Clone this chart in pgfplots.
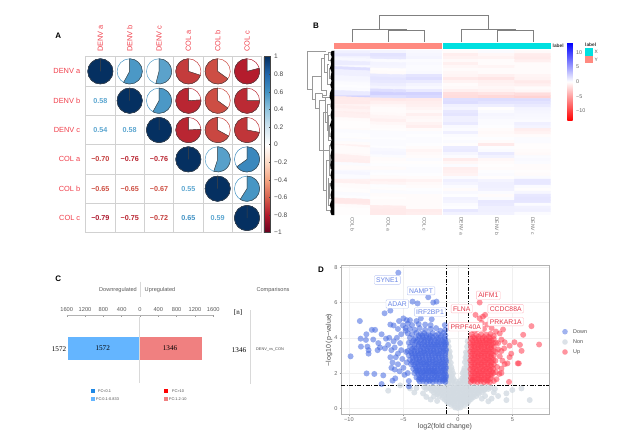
\documentclass[border=0pt]{standalone}
\usepackage{fontspec}
\setmainfont{Liberation Sans}
\newfontfamily\serifn{Liberation Serif}
\usepackage{pgfplots}
\usepackage{pgfplotstable}
\pgfplotsset{compat=1.18}
\newcommand\fs[1]{\fontsize{#1}{#1}\selectfont}
\newcommand\T[4][]{\node[inner sep=0pt,#1] at (axis cs:#2,#3) {#4};}
\definecolor{rl}{HTML}{F0404C}
\definecolor{cdark}{HTML}{444444}
\definecolor{volB}{HTML}{4468E0}
\definecolor{volR}{HTML}{FF3D50}
\definecolor{volG}{HTML}{D3DBE2}
\definecolor{nA}{RGB}{92,166,208}
\definecolor{nB}{RGB}{66,146,196}
\definecolor{nC}{RGB}{205,80,68}
\definecolor{nD}{RGB}{195,60,58}
\definecolor{nE}{RGB}{185,38,50}
\definecolor{nF}{RGB}{172,24,46}
\definecolor{sal}{RGB}{255,138,128}
\definecolor{cya}{RGB}{0,224,224}
\definecolor{bDn}{RGB}{100,181,255}
\definecolor{bUp}{RGB}{240,128,128}
\definecolor{bDk}{RGB}{30,136,229}
\pgfdeclareplotmark{cpie}{%
  \pgfmathsetmacro\aa{90-360*\vv}%
  \fill[white] (0,0) circle (12.6pt);
  \draw[mapped color,line width=.5pt] (0,0) circle (12.6pt);
  \fill[mapped color] (0,0) -- (0,12.6pt) arc[start angle=90,end angle=\aa,radius=12.6pt] -- cycle;
  \draw[cdark,line width=.45pt] (0,0) -- (0,12.6pt) arc[start angle=90,end angle=\aa,radius=12.6pt] -- cycle;
}
\pgfplotstableread{
x y v
0.5 5.5 1
1.5 5.5 0.58
2.5 5.5 0.54
3.5 5.5 -0.70
4.5 5.5 -0.65
5.5 5.5 -0.79
1.5 4.5 1
2.5 4.5 0.58
3.5 4.5 -0.76
4.5 4.5 -0.65
5.5 4.5 -0.75
2.5 3.5 1
3.5 3.5 -0.76
4.5 3.5 -0.67
5.5 3.5 -0.72
3.5 2.5 1
4.5 2.5 0.55
5.5 2.5 0.65
4.5 1.5 1
5.5 1.5 0.59
5.5 0.5 1
}\piedata
\pgfplotsset{numlab/.style={only marks,mark=none,point meta=explicit symbolic,nodes near coords,
  every node near coord/.append style={anchor=center,font=\bfseries\fs{7.2},text=#1,inner sep=0pt}}}
\pgfplotsset{vol/.style 2 args={only marks,mark=*,mark size=3pt,mark options={draw opacity=0,fill=#1,fill opacity=#2}}}
\begin{document}
\begin{tikzpicture}
\useasboundingbox (0,0) rectangle (634pt,436pt);
% ---------- A
\begin{axis}[at={(85.7pt,203.3pt)},anchor=south west,scale only axis,width=176pt,height=176pt,
 xmin=0,xmax=6,ymin=0,ymax=6,
 xtick={0.5,1.5,2.5,3.5,4.5,5.5},ytick={0.5,1.5,2.5,3.5,4.5,5.5},
 xticklabels={DENV a,DENV b,DENV c,COL a,COL b,COL c},
 yticklabels={COL c,COL b,COL a,DENV c,DENV b,DENV a},
 minor xtick={1,2,3,4,5},minor ytick={1,2,3,4,5},
 grid=minor,minor grid style={draw=black!18,line width=.8pt},
 axis line style={draw=black!18,line width=.8pt},
 major tick length=0pt,minor tick length=0pt,
 xticklabel pos=top,
 x tick label style={rotate=90,anchor=west,font=\fs{7.4},text=rl},
 y tick label style={font=\fs{7.4},text=rl,anchor=east},
 xticklabel shift=1.5pt,yticklabel shift=2pt,
 point meta min=-1,point meta max=1,
 colormap={rdbu}{rgb255=(103,0,31);rgb255=(178,24,43);rgb255=(214,96,77);rgb255=(244,165,130);rgb255=(253,219,199);rgb255=(255,255,255);rgb255=(209,229,240);rgb255=(146,197,222);rgb255=(67,147,195);rgb255=(33,102,172);rgb255=(5,48,97)},
 colorbar,
 colorbar style={at={(1.013,0)},anchor=south west,width=6.7pt,height=176pt,
   ytick={-1,-0.8,-0.6,-0.4,-0.2,0,0.2,0.4,0.6,0.8,1},
   yticklabels={−1,−0.8,−0.6,−0.4,−0.2,0,0.2,0.4,0.6,0.8,1},
   y tick label style={font=\fs{6.6},text=cdark},
   major tick length=1.5pt,
   axis line style={draw=cdark,line width=.5pt},
   tick style={draw=cdark,line width=.4pt},
   yticklabel pos=right,ytick pos=right,yticklabel shift=0pt},
 clip=false,
]
\addplot[scatter,only marks,mark=cpie,point meta=\thisrow{v},
  visualization depends on={\thisrow{v}\as\vv}] table[x=x,y=y] {\piedata};
\addplot[numlab=nA] coordinates {(0.5,4.5)[0.58](0.5,3.5)[0.54](3.5,1.5)[0.55]};
\addplot[numlab=nA] coordinates {(1.5,3.5)[0.58]};
\addplot[numlab=nA] coordinates {(4.5,0.5)[0.59]};
\addplot[numlab=nB] coordinates {(3.5,0.5)[0.65]};
\addplot[numlab=nC] coordinates {(0.5,1.5)[−0.65](1.5,1.5)[−0.65](2.5,1.5)[−0.67]};
\addplot[numlab=nD] coordinates {(0.5,2.5)[−0.70](2.5,0.5)[−0.72]};
\addplot[numlab=nE] coordinates {(1.5,2.5)[−0.76](2.5,2.5)[−0.76](1.5,0.5)[−0.75]};
\addplot[numlab=nF] coordinates {(0.5,0.5)[−0.79]};
\end{axis}
% ---------- B heatmap
\begin{axis}[at={(334.3pt,221pt)},anchor=south west,scale only axis,width=216.4pt,height=164.3pt,
 xmin=-0.5,xmax=5.5,ymin=-54.5,ymax=0.5,
 axis line style={draw=none},ticks=none,
 point meta min=-13.4,point meta max=13.4,
 colormap={bwr}{rgb255=(255,0,0);rgb255=(255,255,255);rgb255=(0,0,255)},
 colorbar,
 colorbar style={at={(1.0767,1.0487)},anchor=north west,width=5.4pt,height=78pt,
   ytick={-10,-5,0,5,10},yticklabels={−10,−5,0,5,10},
   y tick label style={font=\fs{5.4},text=black!60},
   major tick length=0pt,axis line style={draw=none},yticklabel shift=0pt},
]
\addplot[matrix plot*,mesh/cols=6,point meta=explicit]
 table[row sep=\\,header=false,x expr={mod(\coordindex,6)},y expr={-floor(\coordindex/6)},meta index=0] {
.8\\.6\\.4\\-.2\\.2\\-.3\\
1.2\\1.5\\.5\\-.9\\-.4\\-1.0\\
.6\\1.2\\.6\\-.7\\-.6\\-1.1\\
.4\\.2\\.2\\-.3\\-.2\\-.8\\
1.0\\.6\\.3\\-.8\\-.2\\-.2\\
.3\\.5\\.2\\-.4\\-.5\\-.2\\
1.7\\-.1\\.2\\-.2\\-.2\\-.2\\
.8\\-.2\\.3\\-.4\\-.2\\-.2\\
.8\\1.1\\1.4\\-.5\\-.8\\-.5\\
.5\\1.4\\1.7\\-1.1\\-1.3\\-.6\\
.4\\1.2\\1.1\\-.6\\-.8\\-1.1\\
.2\\.9\\.6\\-.2\\-.6\\-.8\\
.1\\.6\\.4\\-.3\\-.4\\-.2\\
.2\\1.7\\1.1\\-.8\\-.6\\-.4\\
1.1\\2.4\\2.3\\-1.7\\-1.4\\-1.8\\
2.3\\1.7\\2.0\\-1.8\\-2.0\\-2.3\\
-1.1\\-1.2\\-1.1\\1.7\\1.8\\1.8\\
-1.1\\-.8\\-.9\\1.8\\1.5\\1.5\\
-.6\\-.4\\-.8\\.8\\.9\\1.1\\
-.9\\-.2\\-.5\\.6\\-.1\\.6\\
-.6\\-.2\\-.3\\1.2\\.2\\.5\\
-.9\\-.3\\-.8\\1.4\\.5\\.4\\
-.8\\-.5\\-.4\\.8\\.4\\.3\\
-.2\\-.8\\-.3\\.8\\.2\\.2\\
-.1\\-.4\\-.6\\1.1\\.2\\.8\\
-.1\\-.2\\-.9\\.3\\.1\\.6\\
-.2\\-.1\\-.2\\.2\\-.2\\-.9\\
.2\\.2\\.2\\.8\\-.3\\-.6\\
.1\\.2\\.1\\.2\\-.2\\-.2\\
-.1\\.1\\.2\\.1\\.1\\.2\\
.2\\.2\\.2\\.2\\-.2\\.2\\
-.2\\.2\\.1\\-.1\\-1.1\\-.1\\
-.7\\.1\\-.2\\1.0\\.1\\-.1\\
-.2\\.4\\-.5\\1.1\\.2\\-.2\\
-.2\\.5\\-.3\\.5\\1.1\\-.3\\
-.3\\.2\\-.2\\.2\\.7\\.2\\
-.8\\-.2\\.2\\-1.0\\-.4\\.3\\
-.9\\-.1\\-.1\\-.4\\-.2\\.2\\
.2\\.1\\.1\\.2\\-.1\\-.2\\
-.2\\-.2\\.2\\-.9\\-.2\\-.2\\
.3\\.2\\.2\\-.8\\.1\\-.1\\
.5\\.1\\.1\\-.6\\.2\\-.2\\
.2\\-.2\\-.2\\.2\\-.1\\.2\\
-.7\\-.8\\-.6\\.8\\.6\\1.2\\
-.8\\-.5\\-.3\\.6\\.8\\1.2\\
-.2\\.1\\-.2\\.2\\.8\\.2\\
-.2\\-.1\\.1\\-.2\\.7\\-.1\\
-.1\\.2\\.2\\.3\\.2\\.5\\
.2\\-.2\\-.2\\.1\\-.2\\1.2\\
.1\\-.1\\-.2\\.7\\.2\\1.4\\
-1.2\\-.2\\-.2\\.6\\1.2\\1.3\\
-1.1\\-.2\\-.2\\.2\\1.1\\.2\\
-.2\\-1.0\\-.2\\.1\\.8\\.7\\
-.1\\-1.1\\-1.0\\1.2\\.8\\.8\\
-.1\\-1.1\\-.9\\.7\\.7\\.2\\
};
\end{axis}
% ---------- C
\begin{axis}[at={(66.7pt,53pt)},anchor=south west,scale only axis,width=146.6pt,height=68pt,
 xmin=-1600,xmax=1600,ymin=0,ymax=1,
 axis x line*=top,axis y line=none,
 xtick={-1600,-1200,-800,-400,0,400,800,1200,1600},
 xticklabels={1600,1200,800,400,0,400,800,1200,1600},
 x tick label style={font=\fs{5.7},text=black!65},
 x axis line style={draw=black!30,line width=.8pt,-},
 tick style={draw=black!40,line width=.4pt},
 major tick length=2pt,xticklabel shift=0pt,
 clip=false,
]
\addplot[xbar,bar width=22.7pt,fill=bDn,draw=none] coordinates {(-1572,0.506)};
\addplot[xbar,bar width=22.7pt,fill=bUp,draw=none] coordinates {(1346,0.506)};
\end{axis}
% ---------- D
\begin{axis}[at={(341pt,22pt)},anchor=south west,scale only axis,width=208pt,height=148.7pt,
 xmin=-10.73,xmax=8.37,ymin=-0.32,ymax=8.11,
 xtick={-10,-5,0,5},xticklabels={−10,−5,0,5},ytick={0,2,4,6,8},
 grid=major,grid style={draw=black!6,line width=.4pt},
 axis line style={draw=black!30,line width=.9pt},
 tick style={draw=black!40,line width=.4pt},major tick length=1.5pt,
 tick align=outside,xtick pos=bottom,ytick pos=left,
 tick label style={font=\fs{5.6},text=black!60},
 xticklabel shift=-1pt,yticklabel shift=-1.5pt,
 /pgf/number format/assume math mode=true,
]
\addplot[vol={volG}{.8}] coordinates {
(-.25,.05)(0,.02)(.25,.06)(-.6,.2)(-.3,.18)(0,.22)(.3,.2)(.6,.18)
(-1,.38)(-.7,.42)(-.35,.4)(0,.36)(.35,.43)(.7,.39)(1,.41)
(-1.4,.6)(-1.05,.58)(-.7,.62)(-.35,.6)(0,.57)(.35,.63)(.7,.6)(1.05,.58)(1.4,.62)
(-1.9,.8)(-1.5,.82)(-1.1,.78)(-.75,.8)(-.4,.83)(0,.78)(.4,.81)(.75,.79)(1.1,.83)(1.5,.78)(1.9,.82)
(-2.4,1)(-2,.98)(-1.6,1.03)(-1.2,.98)(-.8,1.02)(-.4,1)(0,.98)(.4,1.03)(.8,.98)(1.2,1.02)(1.6,1)(2,.98)(2.4,1.02)
(-3.1,1.2)(-2.7,1.18)(-2.3,1.22)(-1.9,1.2)(-1.5,1.18)(-1.1,1.22)(-.7,1.2)(-.35,1.18)(0,1.22)(.35,1.2)(.7,1.18)(1.1,1.22)(1.5,1.2)(1.9,1.18)(2.3,1.22)(2.7,1.2)(3,1.18)
(-.9,1.4)(-.6,1.42)(-.3,1.38)(.05,1.4)(.3,1.42)(.6,1.38)(.9,1.4)
(-.9,1.7)(-.65,1.72)(-.4,1.68)(.4,1.7)(.65,1.72)(.9,1.68)
(-.95,2)(-.7,2.02)(-.45,1.98)(.45,2)(.7,1.98)(.95,2.02)
(-.9,2.3)(-.6,2.32)(.6,2.28)(.9,2.3)(-.9,2.6)(-.65,2.58)(.65,2.62)(.9,2.6)
(-.9,2.9)(-.7,2.92)(.7,2.88)(.9,2.9)(-.9,3.2)(-.75,3.22)(.75,3.18)(.92,3.2)
(-.85,3.5)(.85,3.5)(-.9,3.8)(.9,3.8)
(-3.8,1.15)(-4.4,1.13)(-6.4,1)(-5.3,1.3)(-4,.9)(-2.9,.65)(-3.2,.85)(-2.5,.5)(-1.9,.42)(-2.2,.68)
(3.3,.9)(3.7,.7)(4.46,.85)(5,1.04)(4.46,.47)(5.84,1.13)(6.6,.47)(3.1,.55)(2.8,.4)(2.2,.55)(3.4,1.1)(2.5,.7)
(-.85,.3)(-.45,.28)(.45,.3)(.85,.28)(-1.2,.5)(-.85,.52)(-.5,.48)(-.15,.5)(.15,.52)(.5,.48)(.85,.5)(1.2,.52)
(-1.7,.7)(-1.3,.72)(-.9,.68)(-.55,.7)(-.2,.72)(.2,.68)(.55,.7)(.9,.72)(1.3,.68)(1.7,.7)
(-2.2,.9)(-1.8,.88)(-1.4,.92)(-1,.9)(-.6,.88)(-.2,.92)(.2,.9)(.6,.88)(1,.92)(1.4,.9)(1.8,.88)(2.2,.92)
(-2.9,1.1)(-2.5,1.12)(-2.1,1.08)(-1.7,1.1)(-1.3,1.12)(-.9,1.08)(-.5,1.1)(-.15,1.12)(.15,1.08)(.5,1.1)(.9,1.12)(1.3,1.08)(1.7,1.1)(2.1,1.12)(2.5,1.08)(2.8,1.1)
(-.8,1.55)(-.5,1.57)(-.2,1.53)(.2,1.55)(.5,1.57)(.8,1.53)(-.8,1.85)(-.55,1.87)(.55,1.83)(.8,1.85)
(-.8,2.15)(-.55,2.17)(.55,2.13)(.8,2.15)(-.8,2.45)(.8,2.45)(-.8,2.75)(.8,2.75)(-.8,3.05)(.8,3.05)
};
\addplot[vol={volB}{.55}] coordinates {
(-5.47,7.69)(-6.2,5.54)(-6.73,5.39)(-9,4.95)(-4.16,6.05)(-3.7,5.95)(-2.72,6.3)(-2.26,6)(-1.96,6.05)(-2.4,5.05)
(-9.85,2.95)(-8.93,3.95)(-8.9,3.5)(-8.4,4.2)(-8.44,3.88)(-8.3,3.5)(-8.2,3.3)(-8.2,3.1)(-7.9,4.45)(-7.6,4.45)(-7,4.2)
(-7.77,3.9)(-7.3,3.7)(-7.15,3.45)(-7.37,3.3)(-8.38,1.98)(-7.67,1.95)(-6.85,1.87)(-7,1.38)(-6,1.57)(-5.75,1.7)
(-6.6,3.95)(-6.4,3.6)(-6.7,3.4)(-6.1,3.3)(-6.3,4)(-5.9,3.8)(-5.8,3.45)(-5.6,4)(-5.5,3.1)(-6.0,2.6)(-6.2,2.9)(-5.7,2.9)(-6.1,2.3)(-5.8,2.2)(-5.5,2.5)
(-5.3,3.7)(-5.2,4.2)(-5.5,4.5)(-5.9,4.7)(-6.2,4.75)(-5.4,4.95)(-5.0,5.1)(-4.7,5)(-5.05,4.7)(-4.8,4.4)(-5.2,3.3)(-5.1,2.8)(-5.35,2.1)(-5,2.3)(-4.9,1.9)(-4.5,1.55)(-4.6,2.0)(-4.7,2.6)(-4.75,3.2)(-4.5,1.25)
(-4.8,4.55)(-4.4,4.5)(-3.95,4.45)(-3.5,4.55)(-3,4.45)(-2.5,4.5)(-2,4.55)(-1.15,4.45)(-1.6,4.4)(-3,4.75)(-3.6,4.78)(-4.2,4.72)(-4.6,4.8)(-2.5,4.72)(-1.2,4.72)(-4.4,5)(-3.8,4.95)(-3.4,5.1)
(-4.6,4.25)(-4.2,4.2)(-3.8,4.28)(-3.4,4.22)(-3.1,4.27)(-2.7,4.2)(-2.3,4.26)(-1.8,4.22)(-1.3,4.28)
(-4.4,4)(-3.9,3.97)(-3.5,4.03)(-3.2,3.98)(-2.9,4.02)(-2.6,3.97)(-2.3,4.03)(-1.95,3.98)(-1.6,4.02)(-1.2,3.97)
(-4.5,3.72)(-4.2,3.75)(-3.8,3.78)(-3.5,3.72)(-3.1,3.77)(-2.8,3.73)(-2.5,3.78)(-2.2,3.72)(-1.9,3.76)(-1.6,3.74)(-1.3,3.77)(-1.1,3.72)
(-4.4,3.5)(-4,3.47)(-3.6,3.52)(-3.3,3.48)(-3,3.53)(-2.7,3.47)(-2.4,3.52)(-2.1,3.48)(-1.8,3.53)(-1.5,3.47)(-1.2,3.52)
(-4.6,3.25)(-4.3,3.22)(-4,3.28)(-3.7,3.23)(-3.4,3.27)(-3.1,3.22)(-2.8,3.28)(-2.5,3.23)(-2.2,3.27)(-1.9,3.22)(-1.6,3.28)(-1.35,3.23)(-1.1,3.27)
(-4.5,3)(-4.2,3.03)(-3.9,2.98)(-3.6,3.02)(-3.3,2.97)(-3,3.03)(-2.7,2.98)(-2.4,3.02)(-2.1,2.97)(-1.8,3.03)(-1.5,2.98)(-1.15,3.02)
(-4.4,2.75)(-4.1,2.72)(-3.8,2.78)(-3.5,2.73)(-3.2,2.77)(-2.9,2.72)(-2.6,2.78)(-2.3,2.73)(-2,2.77)(-1.7,2.72)(-1.4,2.78)(-1.1,2.73)
(-4.3,2.5)(-4,2.47)(-3.7,2.53)(-3.4,2.48)(-3.15,2.52)(-2.85,2.47)(-2.6,2.53)(-2.3,2.48)(-2.05,2.52)(-1.75,2.47)(-1.5,2.53)(-1.2,2.48)
(-4.1,2.25)(-3.8,2.28)(-3.55,2.22)(-3.25,2.27)(-2.95,2.23)(-2.7,2.28)(-2.4,2.22)(-2.15,2.27)(-1.85,2.23)(-1.6,2.28)(-1.3,2.22)(-1.1,2.27)
(-4,2)(-3.7,2.03)(-3.4,1.98)(-3.15,2.02)(-2.85,1.97)(-2.55,2.03)(-2.3,1.98)(-2,2.02)(-1.75,1.97)(-1.45,2.03)(-1.2,1.98)
(-3.8,1.75)(-3.5,1.72)(-3.25,1.78)(-2.95,1.73)(-2.7,1.77)(-2.4,1.72)(-2.1,1.78)(-1.85,1.73)(-1.55,1.77)(-1.3,1.72)(-1.1,1.77)
(-3.5,1.52)(-3.2,1.55)(-2.9,1.5)(-2.6,1.54)(-2.3,1.5)(-2,1.55)(-1.7,1.5)(-1.4,1.54)(-1.15,1.5)
(-3.95,3.1)(-3.45,3.12)(-2.95,3.15)(-2.45,3.14)(-1.95,3.12)(-1.45,3.13)(-3.85,2.6)(-3.35,2.62)(-2.85,2.6)(-2.35,2.63)(-1.85,2.6)(-1.35,2.62)
(-3.65,2.15)(-3.05,2.12)(-2.55,2.14)(-2.05,2.12)(-1.55,2.14)(-3.35,1.65)(-2.75,1.62)(-2.25,1.65)(-1.65,1.63)(-1.25,1.6)
(-3.3,3.65)(-2.75,3.62)(-2.25,3.62)(-1.75,3.64)(-1.25,3.64)
(-3.6,1.63)(-3.05,1.64)(-2.5,1.62)(-1.95,1.65)(-1.4,1.63)(-1.15,1.65)
(-3.6,1.9)(-3.3,1.88)(-3,1.9)(-2.7,1.87)(-2.4,1.9)(-2.15,1.88)(-1.9,1.9)(-1.6,1.87)(-1.3,1.9)(-1.1,1.88)
(-3.85,2.12)(-3.5,2.1)(-3.2,2.13)(-2.9,2.1)(-2.7,2.13)(-2.35,2.11)(-2.2,2.13)(-1.85,2.1)(-1.4,2.13)(-1.15,2.11)
(-3.9,2.37)(-3.6,2.38)(-3.3,2.36)(-3,2.39)(-2.7,2.37)(-2.45,2.38)(-2.15,2.36)(-1.9,2.38)(-1.6,2.37)(-1.35,2.39)(-1.12,2.37)
(-4.2,2.62)(-3.6,2.64)(-3.1,2.61)(-2.65,2.64)(-2.1,2.62)(-1.6,2.64)(-1.1,2.61)
(-4.15,2.87)(-3.85,2.88)(-3.55,2.86)(-3.25,2.89)(-2.95,2.87)(-2.65,2.88)(-2.35,2.86)(-2.05,2.89)(-1.75,2.87)(-1.45,2.88)(-1.15,2.86)
(-4.25,3.13)(-3.7,3.11)(-3.2,3.14)(-2.7,3.12)(-2.2,3.14)(-1.7,3.11)(-1.15,3.13)
(-4.2,3.37)(-3.85,3.38)(-3.45,3.36)(-3.15,3.39)(-2.85,3.37)(-2.55,3.38)(-2.25,3.36)(-1.95,3.39)(-1.65,3.37)(-1.35,3.38)(-1.1,3.36)
(-4,3.62)(-3.6,3.63)(-3.05,3.61)(-2.5,3.63)(-2,3.61)(-1.5,3.63)(-1.1,3.61)
(-4.05,3.87)(-3.7,3.88)(-3.35,3.86)(-3.05,3.89)(-2.75,3.87)(-2.45,3.88)(-2.1,3.86)(-1.8,3.89)(-1.45,3.87)(-1.15,3.88)
(-3.6,4.13)(-3.25,4.12)(-2.9,4.14)(-2.5,4.11)(-2.05,4.13)(-1.55,4.12)(-1.15,4.14)
};
\addplot[vol={volR}{.55}] coordinates {
(2,6)(1.62,5.3)(2,5.1)(2.3,5.2)(2.5,5.3)(2.2,4.85)(6.76,4.66)(6,4.17)(7.46,3.62)(5.2,3.75)(5.7,3.6)(5.85,3.26)(4.75,3.55)(4.15,4.47)(4,3.9)(4,3.25)(4.75,2.9)(4.9,3.1)(5.6,2.55)(5.5,2.55)(4.7,1.5)(4.1,2.7)(4.3,2.5)(2.7,4.75)(3.1,4.55)(3.5,4.35)(3.85,4.25)(1.5,4.4)(1.8,4.5)(2.4,4.5)
(4.3,3.75)(3.7,3.7)(4.25,3.4)(3.85,2.95)(3.6,2.35)(4,2.25)(3.8,1.95)(3.5,2.05)(3.45,2.7)(3.7,3.35)(4.55,2.55)(4.0,2.0)(3.55,1.65)(3.3,1.55)
(1.25,4.2)(1.7,4.15)(2.15,4.2)(2.6,4.18)(3,4.22)(3.3,4.1)(1.2,3.95)(1.55,3.98)(1.9,3.93)(2.25,3.97)(2.6,3.92)(2.95,3.98)(3.3,3.93)
(1.15,3.72)(1.45,3.7)(1.75,3.74)(2.05,3.7)(2.35,3.74)(2.65,3.7)(2.95,3.74)(3.25,3.7)(3.5,3.72)
(1.2,3.47)(1.5,3.5)(1.8,3.45)(2.1,3.5)(2.4,3.46)(2.7,3.5)(3,3.45)(3.3,3.5)
(1.15,3.22)(1.45,3.25)(1.75,3.2)(2.05,3.24)(2.35,3.2)(2.65,3.25)(2.95,3.2)(3.25,3.24)(3.5,3.2)
(1.2,2.97)(1.5,3)(1.8,2.95)(2.1,3)(2.4,2.96)(2.7,3)(3,2.95)(3.3,3)
(1.15,2.72)(1.45,2.75)(1.75,2.7)(2.05,2.74)(2.35,2.7)(2.65,2.75)(2.95,2.7)(3.25,2.74)
(1.2,2.47)(1.5,2.5)(1.8,2.45)(2.1,2.5)(2.4,2.46)(2.7,2.5)(3,2.45)(3.3,2.5)
(1.15,2.22)(1.45,2.25)(1.75,2.2)(2.05,2.24)(2.35,2.2)(2.65,2.25)(2.95,2.2)(3.25,2.24)
(1.2,1.97)(1.5,2)(1.8,1.95)(2.1,2)(2.4,1.96)(2.7,2)(3,1.95)(3.25,2)
(1.2,1.72)(1.5,1.75)(1.8,1.7)(2.1,1.74)(2.4,1.7)(2.7,1.75)(3,1.7)
(1.2,1.5)(1.5,1.52)(1.8,1.48)(2.1,1.52)(2.4,1.48)(2.7,1.52)(2.95,1.48)
(1.35,3.85)(1.95,3.82)(2.55,3.85)(3.1,3.84)(1.3,3.35)(1.9,3.37)(2.5,3.35)(3.1,3.37)(1.3,2.85)(1.9,2.87)(2.5,2.85)(3.1,2.87)
(1.3,2.35)(1.9,2.37)(2.5,2.35)(3.1,2.37)(1.3,1.85)(1.9,1.87)(2.5,1.85)(1.35,1.6)(1.95,1.62)(2.55,1.6)
(1.6,1.62)(2.2,1.63)(2.8,1.61)(1.3,1.62)(1.65,1.85)(2.2,1.86)(2.8,1.84)(3.1,1.85)
(1.35,2.1)(1.65,2.11)(1.95,2.09)(2.25,2.12)(2.55,2.1)(2.85,2.11)(3.15,2.09)
(1.6,2.35)(2.2,2.36)(2.8,2.34)(1.6,2.6)(1.3,2.6)(1.9,2.61)(2.2,2.59)(2.5,2.62)(2.8,2.6)(3.1,2.61)
(1.6,2.85)(2.2,2.86)(2.8,2.84)(1.3,3.1)(1.6,3.11)(1.9,3.09)(2.2,3.12)(2.5,3.1)(2.8,3.11)(3.1,3.09)
(1.6,3.35)(2.2,3.36)(2.8,3.34)(1.3,3.6)(1.6,3.61)(1.9,3.59)(2.2,3.62)(2.5,3.6)(2.8,3.61)(3.1,3.59)
(1.65,3.85)(2.25,3.86)(2.85,3.84)(1.4,4.05)(1.9,4.06)(2.4,4.04)(2.85,4.06)
};
\addplot[black,line width=1pt,dash pattern=on 4pt off 1.5pt on 1.2pt off 1.5pt] coordinates {(-1,-0.32)(-1,8.11)};
\addplot[black,line width=1pt,dash pattern=on 4pt off 1.5pt on 1.2pt off 1.5pt] coordinates {(1,-0.32)(1,8.11)};
\addplot[black,line width=1pt,dash pattern=on 4pt off 1.5pt on 1.2pt off 1.5pt] coordinates {(-10.73,1.32)(8.37,1.32)};
\end{axis}
% ---------- overlay
\begin{axis}[at={(0pt,0pt)},anchor=south west,scale only axis,width=634pt,height=436pt,
 xmin=0,xmax=634,ymin=0,ymax=436,y dir=reverse,hide axis,clip=false]
\addplot[white,line width=1.4pt] coordinates {(442.6,50.7)(442.6,215)};
\addplot[draw=none,fill=sal] coordinates {(334.3,42.7)(442,42.7)(442,48.7)(334.3,48.7)} --cycle;
\addplot[draw=none,fill=cya] coordinates {(443.3,42.7)(550.7,42.7)(550.7,48.7)(443.3,48.7)} --cycle;
\addplot[draw=none,fill=cya] coordinates {(585.3,48)(592.7,48)(592.7,55.7)(585.3,55.7)} --cycle;
\addplot[draw=none,fill=sal] coordinates {(585.3,55.7)(592.7,55.7)(592.7,63)(585.3,63)} --cycle;
\addplot[black!50,line width=.55pt] coordinates {(352.3,42.3)(352.3,29)(406,29)(406,30.7)(388.3,30.7)(388.3,42.3)};
\addplot[black!50,line width=.55pt] coordinates {(406,30.7)(424.3,30.7)(424.3,42.3)};
\addplot[black!50,line width=.55pt] coordinates {(379,29)(379,15.3)(488.3,15.3)(488.3,29)};
\addplot[black!50,line width=.55pt] coordinates {(461.4,42.3)(461.4,29)(515,29)(515,29.8)(497,29.8)(497,42.3)};
\addplot[black!50,line width=.55pt] coordinates {(515,29.8)(532.8,29.8)(532.8,42.3)};
\addplot[black!40,line width=.35pt,unbounded coords=jump] coordinates {
(326,50.7)(307.3,50.7)(307.3,89)(311.7,89) (nan,nan)
(320.7,75.7)(311.7,75.7)(311.7,99)(315,99) (nan,nan)
(324,58)(320.7,58)(320.7,90)(326,90) (nan,nan)
(328,54)(324,54)(324,72)(327,72) (nan,nan)
(331,52)(328,52)(328,60)(331,60) (nan,nan)
(329,64)(327,64)(327,84)(331,84) (nan,nan)
(331,68)(329,68)(329,78)(331,78) (nan,nan)
(322,93)(315,93)(315,108)(319,108) (nan,nan)
(326,90)(326,95)(322,95)(322,93)(322,97)(331,97) (nan,nan)
(325,100)(319,100)(319,150)(323,150) (nan,nan)
(328,97)(325,97)(325,122)(329,122) (nan,nan)
(327,112)(323,112)(323,190)(326,190) (nan,nan)
(330,104)(327,104)(327,130)(330,130) (nan,nan)
(330,115)(328,115)(328,140)(331,140) (nan,nan)
(329,145)(329,175)(331,175) (nan,nan)
(323,150)(329,150) (nan,nan)
(329,160)(326,160)(326,210)(331,210) (nan,nan)
(328,178)(328,205)(331,205) (nan,nan)
(331,125)(329.5,125)(329.5,136)(331,136) (nan,nan)
(331,155)(330,155)(330,168)(331,168) (nan,nan)
(331,183)(329.5,183)(329.5,198)(331,198) (nan,nan)
};
\addplot[draw=none,fill=black] coordinates {
(334.3,50.7)(331.5,51)(330.5,54)(331.8,57)(330.5,60)(331.2,64)(330,68)(331.5,72)(330.5,77)(331.5,81)(330.3,85)(331.5,89)(330,93)(329.5,97)(331,101)(330.5,106)(331.5,110)(330.5,115)(331.5,120)(330,125)(331.3,130)(330.5,135)(331.5,140)(330.3,145)(331.5,150)(330.5,155)(331.5,160)(330.3,165)(331.5,170)(330.5,175)(331.5,180)(330.3,185)(331.5,190)(330.5,195)(331.5,200)(329.8,205)(331,209)(330.3,212)(331.5,215)(334.3,215)} --cycle;
\T[rotate=-90,anchor=west,font=\fs{5},text=black!55]{352.3}{217}{COL b}
\T[rotate=-90,anchor=west,font=\fs{5},text=black!55]{388.3}{217}{COL a}
\T[rotate=-90,anchor=west,font=\fs{5},text=black!55]{424.3}{217}{COL c}
\T[rotate=-90,anchor=west,font=\fs{5},text=black!55]{461.4}{217}{DENV a}
\T[rotate=-90,anchor=west,font=\fs{5},text=black!55]{497}{217}{DENV b}
\T[rotate=-90,anchor=west,font=\fs{5},text=black!55]{532.8}{217}{DENV c}
\T[anchor=west,font=\bfseries\fs{4.8},text=black!80]{552.5}{45.7}{label}
\T[anchor=west,font=\bfseries\fs{4.8},text=black!80]{585}{44.7}{label}
\T[anchor=west,font=\fs{4.8},text=black!70]{594.5}{52}{X}
\T[anchor=west,font=\fs{4.8},text=black!70]{594.5}{59.5}{Y}
\T[font=\bfseries\fs{8}]{58.3}{36}{A}
\T[font=\bfseries\fs{8}]{316}{25.7}{B}
\T[font=\bfseries\fs{8}]{58.3}{279}{C}
\T[font=\bfseries\fs{8}]{321}{270}{D}
\addplot[black!15,line width=1.1pt] coordinates {(139.7,317)(139.7,383)};
\addplot[black!15,line width=.8pt] coordinates {(140.7,281.7)(140.7,297)};
\addplot[black!15,line width=.9pt] coordinates {(250.7,310)(250.7,384)};
\T[font=\fs{5.6},text=black!65]{118}{290.3}{Downregulated}
\T[font=\fs{5.6},text=black!65]{160}{290.3}{Upregulated}
\T[font=\fs{5.6},text=black!65]{273}{290.3}{Comparisons}
\T[font=\serifn\fs{7}]{238}{313}{[n]}
\T[font=\serifn\fs{7.2}]{239}{350}{1346}
\T[font=\serifn\fs{7.2}]{59}{349.5}{1572}
\T[font=\serifn\fs{7.2}]{102.7}{347.7}{1572}
\T[font=\serifn\fs{7.2}]{170}{347.7}{1346}
\T[font=\fs{3.9},text=black!70]{270}{350}{DENV\_vs\_CON}
\addplot[draw=none,fill=bDk] coordinates {(90.5,388.5)(94.8,388.5)(94.8,393)(90.5,393)} --cycle;
\addplot[draw=none,fill=bDn] coordinates {(90.5,396.5)(94.8,396.5)(94.8,401)(90.5,401)} --cycle;
\addplot[draw=none,fill=red] coordinates {(163.8,388.5)(168.2,388.5)(168.2,393)(163.8,393)} --cycle;
\addplot[draw=none,fill=bUp] coordinates {(163.8,396.5)(168.2,396.5)(168.2,401)(163.8,401)} --cycle;
\T[anchor=west,font=\fs{3.9},text=black!70]{98}{390.7}{FC<0.1}
\T[anchor=west,font=\fs{3.9},text=black!70]{96}{398.7}{FC:0.1-0.833}
\T[anchor=west,font=\fs{3.9},text=black!70]{172}{390.7}{FC>10}
\T[anchor=west,font=\fs{3.9},text=black!70]{169}{398.7}{FC:1.2-10}
\newcommand\VB[3]{\node[draw=volB!35,fill=white,rounded corners=1pt,text=volB!80,font=\fs{6.8},inner sep=1.9pt,line width=.4pt] at (axis cs:#1,#2) {#3};}
\newcommand\VR[3]{\node[draw=volR!35,fill=white,rounded corners=1pt,text=volR!90!black,font=\fs{6.8},inner sep=1.9pt,line width=.4pt] at (axis cs:#1,#2) {#3};}
\VB{387.3}{280}{SYNE1}
\VB{421}{290.7}{NAMPT}
\VB{397.3}{304}{ADAR}
\VB{430}{312}{IRF2BP1}
\VR{488.3}{295.3}{AIFM1}
\VR{461.7}{308.7}{FLNA}
\VR{505.7}{308.7}{CCDC88A}
\VR{505.7}{321.7}{PRKAR1A}
\VR{465.7}{326.7}{PRPF40A}
\T[font=\fs{7},text=black!70]{445}{426.5}{log2(fold change)}
\T[rotate=90,font=\fs{7},text=black!70]{329}{340}{−log10 (p−value)}
\addplot[vol={volB}{.5},mark size=2.8pt] coordinates {(565,331.7)};
\addplot[vol={volG}{.8},mark size=2.8pt] coordinates {(565,342)};
\addplot[vol={volR}{.55},mark size=2.8pt] coordinates {(565,352)};
\T[anchor=west,font=\fs{5.4},text=black!70]{573}{331.7}{Down}
\T[anchor=west,font=\fs{5.4},text=black!70]{573}{342}{Non}
\T[anchor=west,font=\fs{5.4},text=black!70]{573}{352}{Up}
\end{axis}
\end{tikzpicture}
\end{document}
